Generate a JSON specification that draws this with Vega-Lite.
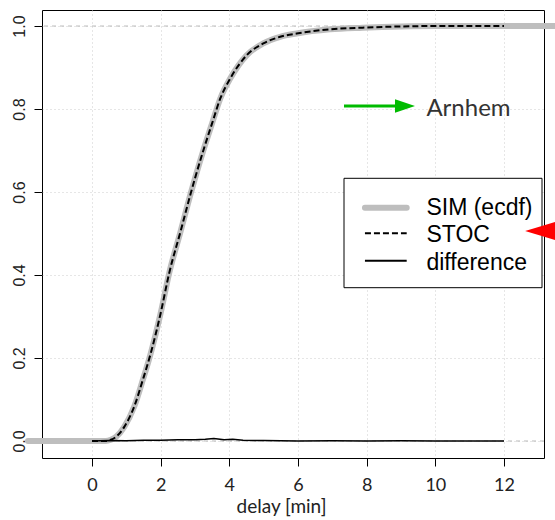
{
  "$schema": "https://vega.github.io/schema/vega-lite/v6.json",
  "width": 502,
  "height": 448,
  "padding": {"left": 42, "top": 10, "right": 11, "bottom": 62},
  "autosize": {"type": "none"},
  "background": "white",
  "config": {
    "view": {"stroke": "black", "strokeWidth": 1},
    "axis": {"domain": false, "grid": true, "gridColor": "#cccccc", "gridDash": [1, 3], "gridWidth": 1, "ticks": true, "tickColor": "black", "tickSize": 8, "labelOverlap": false, "labelFlush": false}
  },
  "datasets": {
    "ref": [{"level": 0}, {"level": 1}],
    "sim": [
      {"delay": -1.864, "p": 0}, {"delay": 0, "p": 0}, {"delay": 0.4, "p": 0}, {"delay": 0.55, "p": 0.003},
      {"delay": 0.7, "p": 0.01}, {"delay": 0.94, "p": 0.034}, {"delay": 1.23, "p": 0.083}, {"delay": 1.48, "p": 0.147},
      {"delay": 1.71, "p": 0.211}, {"delay": 2.0, "p": 0.308}, {"delay": 2.25, "p": 0.405}, {"delay": 2.58, "p": 0.505},
      {"delay": 2.87, "p": 0.595}, {"delay": 3.0, "p": 0.633}, {"delay": 3.25, "p": 0.702}, {"delay": 3.5, "p": 0.766},
      {"delay": 3.74, "p": 0.826}, {"delay": 4.03, "p": 0.874}, {"delay": 4.51, "p": 0.93}, {"delay": 4.99, "p": 0.958},
      {"delay": 5.48, "p": 0.974}, {"delay": 5.96, "p": 0.982}, {"delay": 6.93, "p": 0.992}, {"delay": 7.88, "p": 0.996},
      {"delay": 9, "p": 0.999}, {"delay": 10, "p": 1}, {"delay": 12, "p": 1}, {"delay": 13.6, "p": 1}
    ],
    "stoc": [
      {"delay": 0, "p": 0}, {"delay": 0.4, "p": 0}, {"delay": 0.55, "p": 0.003},
      {"delay": 0.7, "p": 0.01}, {"delay": 0.94, "p": 0.034}, {"delay": 1.23, "p": 0.083}, {"delay": 1.48, "p": 0.147},
      {"delay": 1.71, "p": 0.211}, {"delay": 2.0, "p": 0.308}, {"delay": 2.25, "p": 0.405}, {"delay": 2.58, "p": 0.505},
      {"delay": 2.87, "p": 0.595}, {"delay": 3.0, "p": 0.633}, {"delay": 3.25, "p": 0.702}, {"delay": 3.5, "p": 0.766},
      {"delay": 3.74, "p": 0.826}, {"delay": 4.03, "p": 0.874}, {"delay": 4.51, "p": 0.93}, {"delay": 4.99, "p": 0.958},
      {"delay": 5.48, "p": 0.974}, {"delay": 5.96, "p": 0.982}, {"delay": 6.93, "p": 0.992}, {"delay": 7.88, "p": 0.996},
      {"delay": 9, "p": 0.999}, {"delay": 10, "p": 1}, {"delay": 12, "p": 1}
    ],
    "diff": [
      {"delay": 0, "p": 0}, {"delay": 0.5, "p": 0.001}, {"delay": 1, "p": 0.0005}, {"delay": 1.5, "p": 0.002},
      {"delay": 2, "p": 0.0015}, {"delay": 2.5, "p": 0.003}, {"delay": 3, "p": 0.003}, {"delay": 3.3, "p": 0.004},
      {"delay": 3.55, "p": 0.006}, {"delay": 3.85, "p": 0.003}, {"delay": 4.1, "p": 0.004}, {"delay": 4.4, "p": 0.002},
      {"delay": 5, "p": 0.001}, {"delay": 5.5, "p": 0.0005}, {"delay": 6, "p": 0}, {"delay": 7, "p": 0.0005},
      {"delay": 8, "p": 0}, {"delay": 9, "p": 0.0003}, {"delay": 10, "p": 0}, {"delay": 12, "p": 0}
    ],
    "legend": [{"series": "SIM (ecdf)"}, {"series": "STOC"}, {"series": "difference"}],
    "notes": [{"label": "Arnhem"}]
  },
  "layer": [
    {
      "data": {"name": "ref"},
      "mark": {"type": "rule", "color": "#bbbbbb", "strokeDash": [4, 4], "strokeWidth": 1},
      "encoding": {
        "y": {
          "field": "level", "type": "quantitative",
          "scale": {"domain": [-0.041, 1.0386], "nice": false, "zero": false},
          "axis": {
            "values": [0, 0.2, 0.4, 0.6, 0.8, 1], "format": ".1f", "title": null,
            "labelAngle": 270, "labelAlign": "center", "labelBaseline": "alphabetic", "labelPadding": 10,
            "labelFont": "Liberation Sans", "labelFontSize": 16, "labelColor": "#222222"
          }
        }
      }
    },
    {
      "data": {"name": "sim"},
      "mark": {"type": "line", "color": "#bebebe", "strokeWidth": 6, "strokeCap": "round", "interpolate": "monotone"},
      "encoding": {
        "x": {
          "field": "delay", "type": "quantitative",
          "scale": {"domain": [-1.456, 13.165], "nice": false, "zero": false},
          "axis": {
            "values": [0, 2, 4, 6, 8, 10, 12], "title": "delay [min]",
            "labelFont": "Lato", "labelFontSize": 18, "labelColor": "#222222", "labelBaseline": "alphabetic", "labelPadding": 24,
            "titleFont": "Lato", "titleFontSize": 19, "titleFontWeight": "normal", "titleColor": "#222222",
            "titleX": 239, "titleY": 54, "titleBaseline": "alphabetic", "titleAlign": "center", "titleAnchor": "start"
          }
        },
        "y": {"field": "p", "type": "quantitative"}
      }
    },
    {
      "data": {"name": "stoc"},
      "mark": {"type": "line", "color": "black", "strokeWidth": 2, "strokeDash": [6, 3], "interpolate": "monotone"},
      "encoding": {
        "x": {"field": "delay", "type": "quantitative"},
        "y": {"field": "p", "type": "quantitative"}
      }
    },
    {
      "data": {"name": "diff"},
      "mark": {"type": "line", "color": "black", "strokeWidth": 1.5},
      "encoding": {
        "x": {"field": "delay", "type": "quantitative"},
        "y": {"field": "p", "type": "quantitative"}
      }
    },
    {
      "data": {"name": "notes"},
      "mark": {"type": "rect", "fill": "white", "stroke": "black", "strokeWidth": 1},
      "encoding": {
        "x": {"datum": 7.34, "type": "quantitative"}, "x2": {"datum": 13.107},
        "y": {"datum": 0.633, "type": "quantitative"}, "y2": {"datum": 0.3694}
      }
    },
    {
      "data": {"name": "legend"},
      "transform": [{"filter": "datum.series === 'SIM (ecdf)'"}],
      "mark": {"type": "rule", "color": "#bebebe", "strokeWidth": 6, "strokeCap": "round"},
      "encoding": {
        "x": {"datum": 7.95, "type": "quantitative"}, "x2": {"datum": 9.166},
        "y": {"datum": 0.5622, "type": "quantitative"}
      }
    },
    {
      "data": {"name": "legend"},
      "transform": [{"filter": "datum.series === 'STOC'"}],
      "mark": {"type": "rule", "color": "black", "strokeWidth": 2, "strokeDash": [6, 3]},
      "encoding": {
        "x": {"datum": 7.95, "type": "quantitative"}, "x2": {"datum": 9.166},
        "y": {"datum": 0.5005, "type": "quantitative"}
      }
    },
    {
      "data": {"name": "legend"},
      "transform": [{"filter": "datum.series === 'difference'"}],
      "mark": {"type": "rule", "color": "black", "strokeWidth": 2},
      "encoding": {
        "x": {"datum": 7.95, "type": "quantitative"}, "x2": {"datum": 9.166},
        "y": {"datum": 0.4345, "type": "quantitative"}
      }
    },
    {
      "data": {"name": "legend"},
      "transform": [{"filter": "datum.series === 'SIM (ecdf)'"}],
      "mark": {"type": "text", "font": "Liberation Sans", "fontSize": 23, "align": "left", "baseline": "alphabetic", "color": "black"},
      "encoding": {
        "x": {"datum": 9.74, "type": "quantitative"},
        "y": {"datum": 0.5446, "type": "quantitative"},
        "text": {"field": "series"}
      }
    },
    {
      "data": {"name": "legend"},
      "transform": [{"filter": "datum.series === 'STOC'"}],
      "mark": {"type": "text", "font": "Liberation Sans", "fontSize": 23, "align": "left", "baseline": "alphabetic", "color": "black"},
      "encoding": {
        "x": {"datum": 9.74, "type": "quantitative"},
        "y": {"datum": 0.4802, "type": "quantitative"},
        "text": {"field": "series"}
      }
    },
    {
      "data": {"name": "legend"},
      "transform": [{"filter": "datum.series === 'difference'"}],
      "mark": {"type": "text", "font": "Liberation Sans", "fontSize": 23, "align": "left", "baseline": "alphabetic", "color": "black"},
      "encoding": {
        "x": {"datum": 9.74, "type": "quantitative"},
        "y": {"datum": 0.412, "type": "quantitative"},
        "text": {"field": "series"}
      }
    },
    {
      "data": {"name": "notes"},
      "mark": {"type": "rule", "color": "#00bb00", "strokeWidth": 3},
      "encoding": {
        "x": {"datum": 7.34, "type": "quantitative"}, "x2": {"datum": 8.971},
        "y": {"datum": 0.8072, "type": "quantitative"}
      }
    },
    {
      "data": {"name": "notes"},
      "mark": {"type": "point", "shape": "M-1,-0.67L1,0L-1,0.67Z", "filled": true, "color": "#00bb00", "opacity": 1, "size": 400, "strokeWidth": 0},
      "encoding": {
        "x": {"datum": 9.117, "type": "quantitative"},
        "y": {"datum": 0.8072, "type": "quantitative"}
      }
    },
    {
      "data": {"name": "notes"},
      "mark": {"type": "point", "shape": "M1,-0.6L-1,0L1,0.6Z", "filled": true, "color": "#ff0000", "opacity": 1, "size": 1296, "strokeWidth": 0},
      "encoding": {
        "x": {"datum": 13.14, "type": "quantitative"},
        "y": {"datum": 0.506, "type": "quantitative"}
      }
    },
    {
      "data": {"name": "notes"},
      "mark": {"type": "text", "font": "Lato", "fontSize": 24, "align": "left", "baseline": "alphabetic", "color": "#333333"},
      "encoding": {
        "x": {"datum": 9.74, "type": "quantitative"},
        "y": {"datum": 0.783, "type": "quantitative"},
        "text": {"field": "label"}
      }
    }
  ]
}
